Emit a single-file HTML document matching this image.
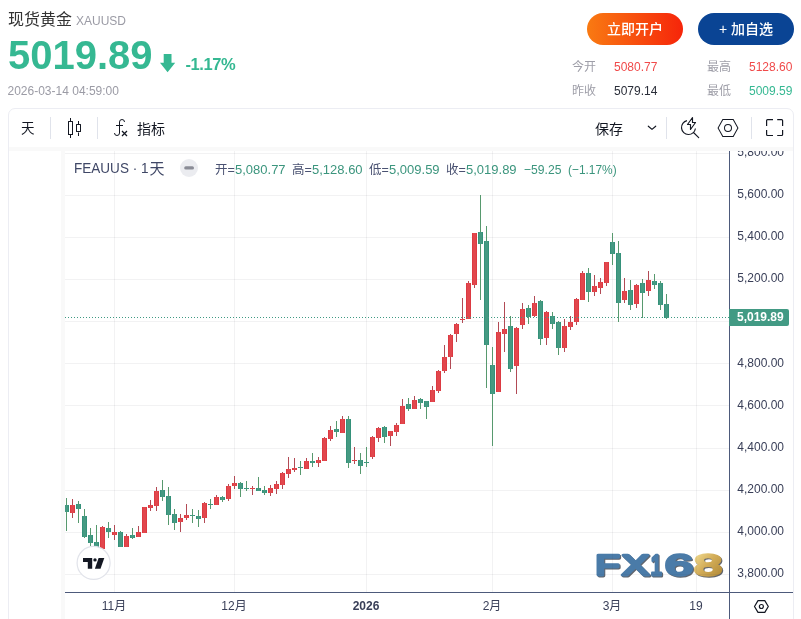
<!DOCTYPE html>
<html lang="zh-CN">
<head>
<meta charset="utf-8">
<title>现货黄金 XAUUSD</title>
<style>
*{box-sizing:border-box;margin:0;padding:0}
html,body{width:801px;height:619px;overflow:hidden;background:#fff}
body{position:relative;font-family:"Liberation Sans","Noto Sans CJK SC",sans-serif;color:#333;-webkit-font-smoothing:antialiased}
.a{position:absolute;white-space:nowrap;line-height:1}
.cj{font-family:"Liberation Sans","Noto Sans CJK SC",sans-serif}
#name{left:8px;top:12px;font-size:16px;color:#333}
#code{left:76px;top:15px;font-size:12px;color:#9b9ba5}
#price{left:8px;top:34.5px;font-size:40px;font-weight:bold;color:#35b892;transform-origin:0 100%;transform:scaleY(1.035)}
#chg{left:185.5px;top:55.5px;font-size:16.5px;font-weight:bold;color:#35b892;letter-spacing:-0.4px}
#date{left:7.5px;top:85px;font-size:12px;color:#9b9ba5}
.btn{position:absolute;top:13px;width:96px;height:32px;border-radius:16px;color:#fff;font-size:14px;font-weight:500;line-height:32px;text-align:center;white-space:nowrap}
#open{left:587px;background:linear-gradient(90deg,#f97a12 0%,#f6250a 100%)}
#fav{left:698px;background:#0a4494}
.sl{font-size:12px;color:#9e9ea8}
.sv{font-size:12px}
.red{color:#f04a4a}.grn{color:#35b892}.drk{color:#2a2e39}
#widget{position:absolute;left:8px;top:108px;width:786px;height:520px;border:1px solid #ecedf3;border-radius:7px 7px 0 0;background:#fff}
.band{position:absolute;background:#f9f9f9;z-index:3}
.tb{font-size:14px;color:#131722}
.lg{font-size:12.5px;color:#4a5272}
.lgv{font-size:13px;color:#3b957d}
.pl{font-size:12px;color:#393f58;left:737.3px;letter-spacing:0;transform:scaleY(1.07);transform-origin:0 50%}
.tl{font-size:12px;color:#393f58;text-align:center;width:60px}
svg{position:absolute;left:0;top:0}
</style>
</head>
<body>
<div class="a cj" id="name">现货黄金</div>
<div class="a" id="code">XAUUSD</div>
<div class="a" id="price">5019.89</div>
<svg width="801" height="619" viewBox="0 0 801 619" style="z-index:1;pointer-events:none">
  <path d="M163.700 54h7.800v8.700h3.700l-7.600 9.500l-7.600-9.500h3.700z" fill="#35b892"/>
</svg>
<div class="a" id="chg">-1.17%</div>
<div class="a" id="date">2026-03-14 04:59:00</div>

<div class="btn cj" id="open">立即开户</div>
<div class="btn cj" id="fav">+ 加自选</div>

<div class="a sl cj" style="left:572px;top:61px">今开</div>
<div class="a sv red" style="left:614px;top:61px">5080.77</div>
<div class="a sl cj" style="left:707px;top:61px">最高</div>
<div class="a sv red" style="left:749px;top:61px">5128.60</div>
<div class="a sl cj" style="left:572px;top:85px">昨收</div>
<div class="a sv drk" style="left:614px;top:85px">5079.14</div>
<div class="a sl cj" style="left:707px;top:85px">最低</div>
<div class="a sv grn" style="left:749px;top:85px">5009.59</div>

<div id="widget"></div>
<div class="band" style="left:9px;top:147px;width:784px;height:4px"></div>
<div class="band" style="left:61px;top:151px;width:4px;height:468px"></div>

<!-- toolbar -->
<div class="a tb cj" style="left:21px;top:122px;font-size:13.5px">天</div>
<div class="a tb cj" style="left:137px;top:122px">指标</div>
<div class="a tb cj" style="left:595px;top:121.500px">保存</div>

<svg width="801" height="619" viewBox="0 0 801 619" id="watermark">
  <defs><filter id="wsh" x="-5%" y="-20%" width="115%" height="150%" color-interpolation-filters="sRGB"><feDropShadow dx="1" dy="1" stdDeviation="0.35" flood-color="#3a3f48" flood-opacity=".8"/></filter><linearGradient id="gold" gradientUnits="userSpaceOnUse" x1="695" y1="-22.20" x2="722" y2="1.56"><stop offset="0" stop-color="#efd98f"/><stop offset=".45" stop-color="#d3ad58"/><stop offset="1" stop-color="#b08835"/></linearGradient></defs>
  <g filter="url(#wsh)"><text transform="translate(0,575.30) scale(1,0.9641)" font-family="'Liberation Sans',sans-serif" font-weight="normal" font-size="30" stroke-width="3.0" stroke-linejoin="round" vector-effect="non-scaling-stroke" text-rendering="geometricPrecision"><tspan x="595.21" textLength="24.48" lengthAdjust="spacingAndGlyphs" fill="#4a7ba8" stroke="#4a7ba8">F</tspan><tspan x="621.85" textLength="27.52" lengthAdjust="spacingAndGlyphs" fill="#4a7ba8" stroke="#4a7ba8">X</tspan><tspan x="650.51" textLength="11.61" lengthAdjust="spacingAndGlyphs" fill="#4a7ba8" stroke="#4a7ba8">1</tspan><tspan x="664.96" textLength="27.75" lengthAdjust="spacingAndGlyphs" fill="#4a7ba8" stroke="#4a7ba8">6</tspan><tspan x="694.36" textLength="27.69" lengthAdjust="spacingAndGlyphs" fill="url(#gold)" stroke="url(#gold)">8</tspan></text></g>
</svg>
<svg width="801" height="619" viewBox="0 0 801 619" shape-rendering="crispEdges">
<rect x="65" y="153" width="664" height="1" fill="rgba(42,46,57,0.062)"/>
<rect x="65" y="195" width="664" height="1" fill="rgba(42,46,57,0.062)"/>
<rect x="65" y="237" width="664" height="1" fill="rgba(42,46,57,0.062)"/>
<rect x="65" y="279" width="664" height="1" fill="rgba(42,46,57,0.062)"/>
<rect x="65" y="321" width="664" height="1" fill="rgba(42,46,57,0.062)"/>
<rect x="65" y="363" width="664" height="1" fill="rgba(42,46,57,0.062)"/>
<rect x="65" y="405" width="664" height="1" fill="rgba(42,46,57,0.062)"/>
<rect x="65" y="448" width="664" height="1" fill="rgba(42,46,57,0.062)"/>
<rect x="65" y="490" width="664" height="1" fill="rgba(42,46,57,0.062)"/>
<rect x="65" y="532" width="664" height="1" fill="rgba(42,46,57,0.062)"/>
<rect x="65" y="574" width="664" height="1" fill="rgba(42,46,57,0.062)"/>
<rect x="114" y="151" width="1" height="441" fill="rgba(42,46,57,0.062)"/>
<rect x="234" y="151" width="1" height="441" fill="rgba(42,46,57,0.062)"/>
<rect x="366" y="151" width="1" height="441" fill="rgba(42,46,57,0.062)"/>
<rect x="492" y="151" width="1" height="441" fill="rgba(42,46,57,0.062)"/>
<rect x="612" y="151" width="1" height="441" fill="rgba(42,46,57,0.062)"/>
<rect x="696" y="151" width="1" height="441" fill="rgba(42,46,57,0.062)"/>
<rect x="66" y="498" width="1" height="33" fill="#57996e"/>
<rect x="65" y="505" width="4" height="7" fill="#35917a"/>
<rect x="65" y="505" width="3" height="7" fill="#459a82"/>
<rect x="72" y="499" width="1" height="19" fill="#b24a55"/>
<rect x="70" y="505" width="5" height="8" fill="#dc3a42"/>
<rect x="71" y="505" width="3" height="8" fill="#e2474d"/>
<rect x="78" y="501" width="1" height="22" fill="#57996e"/>
<rect x="76" y="504" width="5" height="5" fill="#35917a"/>
<rect x="77" y="504" width="3" height="5" fill="#459a82"/>
<rect x="84" y="509" width="1" height="29" fill="#57996e"/>
<rect x="82" y="516" width="5" height="21" fill="#35917a"/>
<rect x="83" y="516" width="3" height="21" fill="#459a82"/>
<rect x="90" y="528" width="1" height="18" fill="#57996e"/>
<rect x="88" y="535" width="5" height="8" fill="#35917a"/>
<rect x="89" y="535" width="3" height="8" fill="#459a82"/>
<rect x="96" y="525" width="1" height="25" fill="#57996e"/>
<rect x="94" y="542" width="5" height="6" fill="#35917a"/>
<rect x="95" y="542" width="3" height="6" fill="#459a82"/>
<rect x="102" y="526" width="1" height="23" fill="#b24a55"/>
<rect x="100" y="527" width="5" height="22" fill="#dc3a42"/>
<rect x="101" y="527" width="3" height="22" fill="#e2474d"/>
<rect x="108" y="522" width="1" height="16" fill="#57996e"/>
<rect x="106" y="528" width="5" height="4" fill="#35917a"/>
<rect x="107" y="528" width="3" height="4" fill="#459a82"/>
<rect x="114" y="525" width="1" height="15" fill="#b24a55"/>
<rect x="112" y="532" width="5" height="3" fill="#dc3a42"/>
<rect x="113" y="532" width="3" height="3" fill="#e2474d"/>
<rect x="120" y="531" width="1" height="16" fill="#57996e"/>
<rect x="118" y="532" width="5" height="15" fill="#35917a"/>
<rect x="119" y="532" width="3" height="15" fill="#459a82"/>
<rect x="126" y="534" width="1" height="13" fill="#b24a55"/>
<rect x="124" y="536" width="5" height="11" fill="#dc3a42"/>
<rect x="125" y="536" width="3" height="11" fill="#e2474d"/>
<rect x="132" y="528" width="1" height="11" fill="#57996e"/>
<rect x="130" y="535" width="5" height="3" fill="#35917a"/>
<rect x="131" y="535" width="3" height="3" fill="#459a82"/>
<rect x="138" y="526" width="1" height="11" fill="#b24a55"/>
<rect x="136" y="532" width="5" height="5" fill="#dc3a42"/>
<rect x="137" y="532" width="3" height="5" fill="#e2474d"/>
<rect x="144" y="507" width="1" height="26" fill="#b24a55"/>
<rect x="142" y="507" width="5" height="26" fill="#dc3a42"/>
<rect x="143" y="507" width="3" height="26" fill="#e2474d"/>
<rect x="150" y="500" width="1" height="11" fill="#b24a55"/>
<rect x="148" y="505" width="5" height="3" fill="#dc3a42"/>
<rect x="149" y="505" width="3" height="3" fill="#e2474d"/>
<rect x="156" y="487" width="1" height="24" fill="#b24a55"/>
<rect x="154" y="491" width="5" height="15" fill="#dc3a42"/>
<rect x="155" y="491" width="3" height="15" fill="#e2474d"/>
<rect x="162" y="480" width="1" height="21" fill="#57996e"/>
<rect x="160" y="490" width="5" height="7" fill="#35917a"/>
<rect x="161" y="490" width="3" height="7" fill="#459a82"/>
<rect x="168" y="487" width="1" height="38" fill="#57996e"/>
<rect x="166" y="496" width="5" height="19" fill="#35917a"/>
<rect x="167" y="496" width="3" height="19" fill="#459a82"/>
<rect x="174" y="509" width="1" height="21" fill="#57996e"/>
<rect x="172" y="514" width="5" height="9" fill="#35917a"/>
<rect x="173" y="514" width="3" height="9" fill="#459a82"/>
<rect x="180" y="514" width="1" height="18" fill="#b24a55"/>
<rect x="178" y="518" width="5" height="4" fill="#dc3a42"/>
<rect x="179" y="518" width="3" height="4" fill="#e2474d"/>
<rect x="186" y="504" width="1" height="16" fill="#b24a55"/>
<rect x="184" y="515" width="5" height="3" fill="#dc3a42"/>
<rect x="185" y="515" width="3" height="3" fill="#e2474d"/>
<rect x="192" y="509" width="1" height="14" fill="#57996e"/>
<rect x="190" y="515" width="5" height="1" fill="#35917a"/>
<rect x="191" y="515" width="3" height="1" fill="#459a82"/>
<rect x="198" y="510" width="1" height="17" fill="#57996e"/>
<rect x="196" y="516" width="5" height="3" fill="#35917a"/>
<rect x="197" y="516" width="3" height="3" fill="#459a82"/>
<rect x="204" y="502" width="1" height="21" fill="#b24a55"/>
<rect x="202" y="503" width="5" height="15" fill="#dc3a42"/>
<rect x="203" y="503" width="3" height="15" fill="#e2474d"/>
<rect x="210" y="499" width="1" height="10" fill="#57996e"/>
<rect x="208" y="504" width="5" height="1" fill="#35917a"/>
<rect x="209" y="504" width="3" height="1" fill="#459a82"/>
<rect x="216" y="495" width="1" height="10" fill="#b24a55"/>
<rect x="214" y="497" width="5" height="8" fill="#dc3a42"/>
<rect x="215" y="497" width="3" height="8" fill="#e2474d"/>
<rect x="222" y="496" width="1" height="6" fill="#57996e"/>
<rect x="220" y="497" width="5" height="3" fill="#35917a"/>
<rect x="221" y="497" width="3" height="3" fill="#459a82"/>
<rect x="228" y="484" width="1" height="17" fill="#b24a55"/>
<rect x="226" y="486" width="5" height="13" fill="#dc3a42"/>
<rect x="227" y="486" width="3" height="13" fill="#e2474d"/>
<rect x="234" y="476" width="1" height="13" fill="#b24a55"/>
<rect x="232" y="483" width="5" height="3" fill="#dc3a42"/>
<rect x="233" y="483" width="3" height="3" fill="#e2474d"/>
<rect x="240" y="482" width="1" height="15" fill="#57996e"/>
<rect x="238" y="483" width="5" height="6" fill="#35917a"/>
<rect x="239" y="483" width="3" height="6" fill="#459a82"/>
<rect x="246" y="481" width="1" height="10" fill="#57996e"/>
<rect x="244" y="488" width="5" height="1" fill="#35917a"/>
<rect x="245" y="488" width="3" height="1" fill="#459a82"/>
<rect x="252" y="486" width="1" height="9" fill="#b24a55"/>
<rect x="250" y="488" width="5" height="1" fill="#dc3a42"/>
<rect x="251" y="488" width="3" height="1" fill="#e2474d"/>
<rect x="258" y="477" width="1" height="14" fill="#57996e"/>
<rect x="256" y="488" width="5" height="3" fill="#35917a"/>
<rect x="257" y="488" width="3" height="3" fill="#459a82"/>
<rect x="264" y="486" width="1" height="9" fill="#57996e"/>
<rect x="262" y="490" width="5" height="3" fill="#35917a"/>
<rect x="263" y="490" width="3" height="3" fill="#459a82"/>
<rect x="270" y="485" width="1" height="11" fill="#b24a55"/>
<rect x="268" y="488" width="5" height="5" fill="#dc3a42"/>
<rect x="269" y="488" width="3" height="5" fill="#e2474d"/>
<rect x="276" y="481" width="1" height="13" fill="#b24a55"/>
<rect x="274" y="484" width="5" height="5" fill="#dc3a42"/>
<rect x="275" y="484" width="3" height="5" fill="#e2474d"/>
<rect x="282" y="472" width="1" height="17" fill="#b24a55"/>
<rect x="280" y="473" width="5" height="12" fill="#dc3a42"/>
<rect x="281" y="473" width="3" height="12" fill="#e2474d"/>
<rect x="288" y="457" width="1" height="21" fill="#b24a55"/>
<rect x="286" y="469" width="5" height="5" fill="#dc3a42"/>
<rect x="287" y="469" width="3" height="5" fill="#e2474d"/>
<rect x="294" y="458" width="1" height="14" fill="#b24a55"/>
<rect x="292" y="468" width="5" height="2" fill="#dc3a42"/>
<rect x="293" y="468" width="3" height="2" fill="#e2474d"/>
<rect x="300" y="461" width="1" height="14" fill="#57996e"/>
<rect x="298" y="467" width="5" height="1" fill="#35917a"/>
<rect x="299" y="467" width="3" height="1" fill="#459a82"/>
<rect x="306" y="458" width="1" height="11" fill="#b24a55"/>
<rect x="304" y="461" width="5" height="8" fill="#dc3a42"/>
<rect x="305" y="461" width="3" height="8" fill="#e2474d"/>
<rect x="312" y="453" width="1" height="14" fill="#57996e"/>
<rect x="310" y="461" width="5" height="2" fill="#35917a"/>
<rect x="311" y="461" width="3" height="2" fill="#459a82"/>
<rect x="318" y="457" width="1" height="10" fill="#b24a55"/>
<rect x="316" y="460" width="5" height="3" fill="#dc3a42"/>
<rect x="317" y="460" width="3" height="3" fill="#e2474d"/>
<rect x="324" y="437" width="1" height="24" fill="#b24a55"/>
<rect x="322" y="438" width="5" height="23" fill="#dc3a42"/>
<rect x="323" y="438" width="3" height="23" fill="#e2474d"/>
<rect x="330" y="426" width="1" height="15" fill="#b24a55"/>
<rect x="328" y="430" width="5" height="9" fill="#dc3a42"/>
<rect x="329" y="430" width="3" height="9" fill="#e2474d"/>
<rect x="336" y="421" width="1" height="16" fill="#57996e"/>
<rect x="334" y="429" width="5" height="3" fill="#35917a"/>
<rect x="335" y="429" width="3" height="3" fill="#459a82"/>
<rect x="342" y="416" width="1" height="17" fill="#b24a55"/>
<rect x="340" y="419" width="5" height="14" fill="#dc3a42"/>
<rect x="341" y="419" width="3" height="14" fill="#e2474d"/>
<rect x="348" y="416" width="1" height="52" fill="#57996e"/>
<rect x="346" y="419" width="5" height="44" fill="#35917a"/>
<rect x="347" y="419" width="3" height="44" fill="#459a82"/>
<rect x="354" y="447" width="1" height="17" fill="#b24a55"/>
<rect x="352" y="460" width="5" height="1" fill="#dc3a42"/>
<rect x="353" y="460" width="3" height="1" fill="#e2474d"/>
<rect x="360" y="453" width="1" height="21" fill="#57996e"/>
<rect x="358" y="460" width="5" height="6" fill="#35917a"/>
<rect x="359" y="460" width="3" height="6" fill="#459a82"/>
<rect x="366" y="447" width="1" height="20" fill="#57996e"/>
<rect x="364" y="462" width="5" height="1" fill="#35917a"/>
<rect x="365" y="462" width="3" height="1" fill="#459a82"/>
<rect x="372" y="436" width="1" height="23" fill="#b24a55"/>
<rect x="370" y="437" width="5" height="20" fill="#dc3a42"/>
<rect x="371" y="437" width="3" height="20" fill="#e2474d"/>
<rect x="378" y="427" width="1" height="15" fill="#b24a55"/>
<rect x="376" y="428" width="5" height="10" fill="#dc3a42"/>
<rect x="377" y="428" width="3" height="10" fill="#e2474d"/>
<rect x="384" y="426" width="1" height="17" fill="#57996e"/>
<rect x="382" y="427" width="5" height="10" fill="#35917a"/>
<rect x="383" y="427" width="3" height="10" fill="#459a82"/>
<rect x="390" y="431" width="1" height="15" fill="#b24a55"/>
<rect x="388" y="431" width="5" height="5" fill="#dc3a42"/>
<rect x="389" y="431" width="3" height="5" fill="#e2474d"/>
<rect x="396" y="423" width="1" height="13" fill="#b24a55"/>
<rect x="394" y="425" width="5" height="7" fill="#dc3a42"/>
<rect x="395" y="425" width="3" height="7" fill="#e2474d"/>
<rect x="402" y="399" width="1" height="25" fill="#b24a55"/>
<rect x="400" y="406" width="5" height="18" fill="#dc3a42"/>
<rect x="401" y="406" width="3" height="18" fill="#e2474d"/>
<rect x="408" y="398" width="1" height="13" fill="#57996e"/>
<rect x="406" y="404" width="5" height="5" fill="#35917a"/>
<rect x="407" y="404" width="3" height="5" fill="#459a82"/>
<rect x="414" y="396" width="1" height="13" fill="#b24a55"/>
<rect x="412" y="400" width="5" height="9" fill="#dc3a42"/>
<rect x="413" y="400" width="3" height="9" fill="#e2474d"/>
<rect x="420" y="398" width="1" height="11" fill="#57996e"/>
<rect x="418" y="399" width="5" height="4" fill="#35917a"/>
<rect x="419" y="399" width="3" height="4" fill="#459a82"/>
<rect x="426" y="401" width="1" height="18" fill="#57996e"/>
<rect x="424" y="401" width="5" height="6" fill="#35917a"/>
<rect x="425" y="401" width="3" height="6" fill="#459a82"/>
<rect x="432" y="386" width="1" height="16" fill="#b24a55"/>
<rect x="430" y="390" width="5" height="12" fill="#dc3a42"/>
<rect x="431" y="390" width="3" height="12" fill="#e2474d"/>
<rect x="438" y="370" width="1" height="23" fill="#b24a55"/>
<rect x="436" y="371" width="5" height="20" fill="#dc3a42"/>
<rect x="437" y="371" width="3" height="20" fill="#e2474d"/>
<rect x="444" y="345" width="1" height="28" fill="#b24a55"/>
<rect x="442" y="357" width="5" height="14" fill="#dc3a42"/>
<rect x="443" y="357" width="3" height="14" fill="#e2474d"/>
<rect x="450" y="334" width="1" height="35" fill="#b24a55"/>
<rect x="448" y="335" width="5" height="22" fill="#dc3a42"/>
<rect x="449" y="335" width="3" height="22" fill="#e2474d"/>
<rect x="456" y="323" width="1" height="19" fill="#b24a55"/>
<rect x="454" y="324" width="5" height="10" fill="#dc3a42"/>
<rect x="455" y="324" width="3" height="10" fill="#e2474d"/>
<rect x="462" y="298" width="1" height="25" fill="#b24a55"/>
<rect x="460" y="319" width="5" height="1" fill="#dc3a42"/>
<rect x="461" y="319" width="3" height="1" fill="#e2474d"/>
<rect x="468" y="281" width="1" height="38" fill="#b24a55"/>
<rect x="466" y="283" width="5" height="36" fill="#dc3a42"/>
<rect x="467" y="283" width="3" height="36" fill="#e2474d"/>
<rect x="474" y="233" width="1" height="55" fill="#b24a55"/>
<rect x="472" y="233" width="5" height="52" fill="#dc3a42"/>
<rect x="473" y="233" width="3" height="52" fill="#e2474d"/>
<rect x="480" y="195" width="1" height="105" fill="#57996e"/>
<rect x="478" y="232" width="5" height="12" fill="#35917a"/>
<rect x="479" y="232" width="3" height="12" fill="#459a82"/>
<rect x="486" y="226" width="1" height="162" fill="#57996e"/>
<rect x="484" y="241" width="5" height="104" fill="#35917a"/>
<rect x="485" y="241" width="3" height="104" fill="#459a82"/>
<rect x="492" y="347" width="1" height="99" fill="#57996e"/>
<rect x="490" y="365" width="5" height="29" fill="#35917a"/>
<rect x="491" y="365" width="3" height="29" fill="#459a82"/>
<rect x="498" y="322" width="1" height="70" fill="#b24a55"/>
<rect x="496" y="332" width="5" height="60" fill="#dc3a42"/>
<rect x="497" y="332" width="3" height="60" fill="#e2474d"/>
<rect x="504" y="302" width="1" height="50" fill="#b24a55"/>
<rect x="502" y="329" width="5" height="5" fill="#dc3a42"/>
<rect x="503" y="329" width="3" height="5" fill="#e2474d"/>
<rect x="510" y="316" width="1" height="56" fill="#57996e"/>
<rect x="508" y="326" width="5" height="43" fill="#35917a"/>
<rect x="509" y="326" width="3" height="43" fill="#459a82"/>
<rect x="516" y="327" width="1" height="67" fill="#b24a55"/>
<rect x="514" y="328" width="5" height="38" fill="#dc3a42"/>
<rect x="515" y="328" width="3" height="38" fill="#e2474d"/>
<rect x="522" y="303" width="1" height="26" fill="#b24a55"/>
<rect x="520" y="309" width="5" height="16" fill="#dc3a42"/>
<rect x="521" y="309" width="3" height="16" fill="#e2474d"/>
<rect x="528" y="305" width="1" height="19" fill="#57996e"/>
<rect x="526" y="308" width="5" height="9" fill="#35917a"/>
<rect x="527" y="308" width="3" height="9" fill="#459a82"/>
<rect x="534" y="296" width="1" height="21" fill="#b24a55"/>
<rect x="532" y="303" width="5" height="13" fill="#dc3a42"/>
<rect x="533" y="303" width="3" height="13" fill="#e2474d"/>
<rect x="540" y="300" width="1" height="45" fill="#57996e"/>
<rect x="538" y="301" width="5" height="38" fill="#35917a"/>
<rect x="539" y="301" width="3" height="38" fill="#459a82"/>
<rect x="546" y="311" width="1" height="34" fill="#b24a55"/>
<rect x="544" y="312" width="5" height="26" fill="#dc3a42"/>
<rect x="545" y="312" width="3" height="26" fill="#e2474d"/>
<rect x="552" y="312" width="1" height="17" fill="#57996e"/>
<rect x="550" y="316" width="5" height="8" fill="#35917a"/>
<rect x="551" y="316" width="3" height="8" fill="#459a82"/>
<rect x="558" y="321" width="1" height="34" fill="#57996e"/>
<rect x="556" y="322" width="5" height="26" fill="#35917a"/>
<rect x="557" y="322" width="3" height="26" fill="#459a82"/>
<rect x="564" y="319" width="1" height="33" fill="#b24a55"/>
<rect x="562" y="326" width="5" height="22" fill="#dc3a42"/>
<rect x="563" y="326" width="3" height="22" fill="#e2474d"/>
<rect x="570" y="316" width="1" height="14" fill="#b24a55"/>
<rect x="568" y="322" width="5" height="5" fill="#dc3a42"/>
<rect x="569" y="322" width="3" height="5" fill="#e2474d"/>
<rect x="576" y="298" width="1" height="27" fill="#b24a55"/>
<rect x="574" y="299" width="5" height="23" fill="#dc3a42"/>
<rect x="575" y="299" width="3" height="23" fill="#e2474d"/>
<rect x="582" y="271" width="1" height="29" fill="#b24a55"/>
<rect x="580" y="273" width="5" height="27" fill="#dc3a42"/>
<rect x="581" y="273" width="3" height="27" fill="#e2474d"/>
<rect x="588" y="268" width="1" height="34" fill="#57996e"/>
<rect x="586" y="273" width="5" height="19" fill="#35917a"/>
<rect x="587" y="273" width="3" height="19" fill="#459a82"/>
<rect x="594" y="275" width="1" height="21" fill="#b24a55"/>
<rect x="592" y="286" width="5" height="6" fill="#dc3a42"/>
<rect x="593" y="286" width="3" height="6" fill="#e2474d"/>
<rect x="600" y="278" width="1" height="16" fill="#b24a55"/>
<rect x="598" y="282" width="5" height="6" fill="#dc3a42"/>
<rect x="599" y="282" width="3" height="6" fill="#e2474d"/>
<rect x="606" y="262" width="1" height="24" fill="#b24a55"/>
<rect x="604" y="262" width="5" height="21" fill="#dc3a42"/>
<rect x="605" y="262" width="3" height="21" fill="#e2474d"/>
<rect x="612" y="233" width="1" height="32" fill="#57996e"/>
<rect x="610" y="242" width="5" height="12" fill="#35917a"/>
<rect x="611" y="242" width="3" height="12" fill="#459a82"/>
<rect x="618" y="241" width="1" height="81" fill="#57996e"/>
<rect x="616" y="253" width="5" height="50" fill="#35917a"/>
<rect x="617" y="253" width="3" height="50" fill="#459a82"/>
<rect x="624" y="278" width="1" height="25" fill="#b24a55"/>
<rect x="622" y="291" width="5" height="9" fill="#dc3a42"/>
<rect x="623" y="291" width="3" height="9" fill="#e2474d"/>
<rect x="630" y="280" width="1" height="30" fill="#57996e"/>
<rect x="628" y="290" width="5" height="15" fill="#35917a"/>
<rect x="629" y="290" width="3" height="15" fill="#459a82"/>
<rect x="636" y="284" width="1" height="24" fill="#b24a55"/>
<rect x="634" y="285" width="5" height="19" fill="#dc3a42"/>
<rect x="635" y="285" width="3" height="19" fill="#e2474d"/>
<rect x="642" y="279" width="1" height="39" fill="#57996e"/>
<rect x="640" y="283" width="5" height="10" fill="#35917a"/>
<rect x="641" y="283" width="3" height="10" fill="#459a82"/>
<rect x="648" y="271" width="1" height="25" fill="#b24a55"/>
<rect x="646" y="280" width="5" height="11" fill="#dc3a42"/>
<rect x="647" y="280" width="3" height="11" fill="#e2474d"/>
<rect x="654" y="274" width="1" height="15" fill="#57996e"/>
<rect x="652" y="281" width="5" height="4" fill="#35917a"/>
<rect x="653" y="281" width="3" height="4" fill="#459a82"/>
<rect x="660" y="281" width="1" height="29" fill="#57996e"/>
<rect x="658" y="283" width="5" height="22" fill="#35917a"/>
<rect x="659" y="283" width="3" height="22" fill="#459a82"/>
<rect x="666" y="294" width="1" height="25" fill="#57996e"/>
<rect x="664" y="304" width="5" height="14" fill="#35917a"/>
<rect x="665" y="304" width="3" height="14" fill="#459a82"/>
<g fill="#3f9a83">
<rect x="65" y="317" width="1" height="1"/><rect x="68" y="317" width="1" height="1"/><rect x="71" y="317" width="1" height="1"/><rect x="74" y="317" width="1" height="1"/><rect x="77" y="317" width="1" height="1"/><rect x="80" y="317" width="1" height="1"/><rect x="83" y="317" width="1" height="1"/><rect x="86" y="317" width="1" height="1"/><rect x="89" y="317" width="1" height="1"/><rect x="92" y="317" width="1" height="1"/><rect x="95" y="317" width="1" height="1"/><rect x="98" y="317" width="1" height="1"/><rect x="101" y="317" width="1" height="1"/><rect x="104" y="317" width="1" height="1"/><rect x="107" y="317" width="1" height="1"/><rect x="110" y="317" width="1" height="1"/><rect x="113" y="317" width="1" height="1"/><rect x="116" y="317" width="1" height="1"/><rect x="119" y="317" width="1" height="1"/><rect x="122" y="317" width="1" height="1"/><rect x="125" y="317" width="1" height="1"/><rect x="128" y="317" width="1" height="1"/><rect x="131" y="317" width="1" height="1"/><rect x="134" y="317" width="1" height="1"/><rect x="137" y="317" width="1" height="1"/><rect x="140" y="317" width="1" height="1"/><rect x="143" y="317" width="1" height="1"/><rect x="146" y="317" width="1" height="1"/><rect x="149" y="317" width="1" height="1"/><rect x="152" y="317" width="1" height="1"/><rect x="155" y="317" width="1" height="1"/><rect x="158" y="317" width="1" height="1"/><rect x="161" y="317" width="1" height="1"/><rect x="164" y="317" width="1" height="1"/><rect x="167" y="317" width="1" height="1"/><rect x="170" y="317" width="1" height="1"/><rect x="173" y="317" width="1" height="1"/><rect x="176" y="317" width="1" height="1"/><rect x="179" y="317" width="1" height="1"/><rect x="182" y="317" width="1" height="1"/><rect x="185" y="317" width="1" height="1"/><rect x="188" y="317" width="1" height="1"/><rect x="191" y="317" width="1" height="1"/><rect x="194" y="317" width="1" height="1"/><rect x="197" y="317" width="1" height="1"/><rect x="200" y="317" width="1" height="1"/><rect x="203" y="317" width="1" height="1"/><rect x="206" y="317" width="1" height="1"/><rect x="209" y="317" width="1" height="1"/><rect x="212" y="317" width="1" height="1"/><rect x="215" y="317" width="1" height="1"/><rect x="218" y="317" width="1" height="1"/><rect x="221" y="317" width="1" height="1"/><rect x="224" y="317" width="1" height="1"/><rect x="227" y="317" width="1" height="1"/><rect x="230" y="317" width="1" height="1"/><rect x="233" y="317" width="1" height="1"/><rect x="236" y="317" width="1" height="1"/><rect x="239" y="317" width="1" height="1"/><rect x="242" y="317" width="1" height="1"/><rect x="245" y="317" width="1" height="1"/><rect x="248" y="317" width="1" height="1"/><rect x="251" y="317" width="1" height="1"/><rect x="254" y="317" width="1" height="1"/><rect x="257" y="317" width="1" height="1"/><rect x="260" y="317" width="1" height="1"/><rect x="263" y="317" width="1" height="1"/><rect x="266" y="317" width="1" height="1"/><rect x="269" y="317" width="1" height="1"/><rect x="272" y="317" width="1" height="1"/><rect x="275" y="317" width="1" height="1"/><rect x="278" y="317" width="1" height="1"/><rect x="281" y="317" width="1" height="1"/><rect x="284" y="317" width="1" height="1"/><rect x="287" y="317" width="1" height="1"/><rect x="290" y="317" width="1" height="1"/><rect x="293" y="317" width="1" height="1"/><rect x="296" y="317" width="1" height="1"/><rect x="299" y="317" width="1" height="1"/><rect x="302" y="317" width="1" height="1"/><rect x="305" y="317" width="1" height="1"/><rect x="308" y="317" width="1" height="1"/><rect x="311" y="317" width="1" height="1"/><rect x="314" y="317" width="1" height="1"/><rect x="317" y="317" width="1" height="1"/><rect x="320" y="317" width="1" height="1"/><rect x="323" y="317" width="1" height="1"/><rect x="326" y="317" width="1" height="1"/><rect x="329" y="317" width="1" height="1"/><rect x="332" y="317" width="1" height="1"/><rect x="335" y="317" width="1" height="1"/><rect x="338" y="317" width="1" height="1"/><rect x="341" y="317" width="1" height="1"/><rect x="344" y="317" width="1" height="1"/><rect x="347" y="317" width="1" height="1"/><rect x="350" y="317" width="1" height="1"/><rect x="353" y="317" width="1" height="1"/><rect x="356" y="317" width="1" height="1"/><rect x="359" y="317" width="1" height="1"/><rect x="362" y="317" width="1" height="1"/><rect x="365" y="317" width="1" height="1"/><rect x="368" y="317" width="1" height="1"/><rect x="371" y="317" width="1" height="1"/><rect x="374" y="317" width="1" height="1"/><rect x="377" y="317" width="1" height="1"/><rect x="380" y="317" width="1" height="1"/><rect x="383" y="317" width="1" height="1"/><rect x="386" y="317" width="1" height="1"/><rect x="389" y="317" width="1" height="1"/><rect x="392" y="317" width="1" height="1"/><rect x="395" y="317" width="1" height="1"/><rect x="398" y="317" width="1" height="1"/><rect x="401" y="317" width="1" height="1"/><rect x="404" y="317" width="1" height="1"/><rect x="407" y="317" width="1" height="1"/><rect x="410" y="317" width="1" height="1"/><rect x="413" y="317" width="1" height="1"/><rect x="416" y="317" width="1" height="1"/><rect x="419" y="317" width="1" height="1"/><rect x="422" y="317" width="1" height="1"/><rect x="425" y="317" width="1" height="1"/><rect x="428" y="317" width="1" height="1"/><rect x="431" y="317" width="1" height="1"/><rect x="434" y="317" width="1" height="1"/><rect x="437" y="317" width="1" height="1"/><rect x="440" y="317" width="1" height="1"/><rect x="443" y="317" width="1" height="1"/><rect x="446" y="317" width="1" height="1"/><rect x="449" y="317" width="1" height="1"/><rect x="452" y="317" width="1" height="1"/><rect x="455" y="317" width="1" height="1"/><rect x="458" y="317" width="1" height="1"/><rect x="461" y="317" width="1" height="1"/><rect x="464" y="317" width="1" height="1"/><rect x="467" y="317" width="1" height="1"/><rect x="470" y="317" width="1" height="1"/><rect x="473" y="317" width="1" height="1"/><rect x="476" y="317" width="1" height="1"/><rect x="479" y="317" width="1" height="1"/><rect x="482" y="317" width="1" height="1"/><rect x="485" y="317" width="1" height="1"/><rect x="488" y="317" width="1" height="1"/><rect x="491" y="317" width="1" height="1"/><rect x="494" y="317" width="1" height="1"/><rect x="497" y="317" width="1" height="1"/><rect x="500" y="317" width="1" height="1"/><rect x="503" y="317" width="1" height="1"/><rect x="506" y="317" width="1" height="1"/><rect x="509" y="317" width="1" height="1"/><rect x="512" y="317" width="1" height="1"/><rect x="515" y="317" width="1" height="1"/><rect x="518" y="317" width="1" height="1"/><rect x="521" y="317" width="1" height="1"/><rect x="524" y="317" width="1" height="1"/><rect x="527" y="317" width="1" height="1"/><rect x="530" y="317" width="1" height="1"/><rect x="533" y="317" width="1" height="1"/><rect x="536" y="317" width="1" height="1"/><rect x="539" y="317" width="1" height="1"/><rect x="542" y="317" width="1" height="1"/><rect x="545" y="317" width="1" height="1"/><rect x="548" y="317" width="1" height="1"/><rect x="551" y="317" width="1" height="1"/><rect x="554" y="317" width="1" height="1"/><rect x="557" y="317" width="1" height="1"/><rect x="560" y="317" width="1" height="1"/><rect x="563" y="317" width="1" height="1"/><rect x="566" y="317" width="1" height="1"/><rect x="569" y="317" width="1" height="1"/><rect x="572" y="317" width="1" height="1"/><rect x="575" y="317" width="1" height="1"/><rect x="578" y="317" width="1" height="1"/><rect x="581" y="317" width="1" height="1"/><rect x="584" y="317" width="1" height="1"/><rect x="587" y="317" width="1" height="1"/><rect x="590" y="317" width="1" height="1"/><rect x="593" y="317" width="1" height="1"/><rect x="596" y="317" width="1" height="1"/><rect x="599" y="317" width="1" height="1"/><rect x="602" y="317" width="1" height="1"/><rect x="605" y="317" width="1" height="1"/><rect x="608" y="317" width="1" height="1"/><rect x="611" y="317" width="1" height="1"/><rect x="614" y="317" width="1" height="1"/><rect x="617" y="317" width="1" height="1"/><rect x="620" y="317" width="1" height="1"/><rect x="623" y="317" width="1" height="1"/><rect x="626" y="317" width="1" height="1"/><rect x="629" y="317" width="1" height="1"/><rect x="632" y="317" width="1" height="1"/><rect x="635" y="317" width="1" height="1"/><rect x="638" y="317" width="1" height="1"/><rect x="641" y="317" width="1" height="1"/><rect x="644" y="317" width="1" height="1"/><rect x="647" y="317" width="1" height="1"/><rect x="650" y="317" width="1" height="1"/><rect x="653" y="317" width="1" height="1"/><rect x="656" y="317" width="1" height="1"/><rect x="659" y="317" width="1" height="1"/><rect x="662" y="317" width="1" height="1"/><rect x="665" y="317" width="1" height="1"/><rect x="668" y="317" width="1" height="1"/><rect x="671" y="317" width="1" height="1"/><rect x="674" y="317" width="1" height="1"/><rect x="677" y="317" width="1" height="1"/><rect x="680" y="317" width="1" height="1"/><rect x="683" y="317" width="1" height="1"/><rect x="686" y="317" width="1" height="1"/><rect x="689" y="317" width="1" height="1"/><rect x="692" y="317" width="1" height="1"/><rect x="695" y="317" width="1" height="1"/><rect x="698" y="317" width="1" height="1"/><rect x="701" y="317" width="1" height="1"/><rect x="704" y="317" width="1" height="1"/><rect x="707" y="317" width="1" height="1"/><rect x="710" y="317" width="1" height="1"/><rect x="713" y="317" width="1" height="1"/><rect x="716" y="317" width="1" height="1"/><rect x="719" y="317" width="1" height="1"/><rect x="722" y="317" width="1" height="1"/><rect x="725" y="317" width="1" height="1"/><rect x="728" y="317" width="1" height="1"/></g>
  <!-- axis lines -->
  <rect x="729" y="151" width="1" height="468" fill="#4d5a7b"/>
  <rect x="65" y="592" width="728" height="1" fill="#4d5a7b"/>
  <!-- toolbar separators -->
  <rect x="50" y="117" width="1" height="22" fill="#e0e3eb"/>
  <rect x="97" y="117" width="1" height="22" fill="#e0e3eb"/>
  <rect x="666" y="117" width="1" height="22" fill="#e0e3eb"/>
  <rect x="751" y="117" width="1" height="22" fill="#e0e3eb"/>
  <!-- last price box -->
  
</svg>

<svg width="801" height="619" viewBox="0 0 801 619" fill="none" stroke="#131722" stroke-width="1">
  <!-- candle icon -->
  <g transform="translate(60,114)" fill="#131722" stroke="none">
    <path d="M17 11v6h3v-6h-3zm-.5-1h4a.5.5 0 0 1 .5.5v7a.5.5 0 0 1-.5.5h-4a.5.5 0 0 1-.5-.5v-7a.5.5 0 0 1 .5-.5z"/>
    <path d="M18 7h1v3.500h-1zm0 11.500h1V22h-1zM9 8v12h3V8H9zm-.5-1h4a.5.5 0 0 1 .5.5v13a.5.5 0 0 1-.5.5h-4a.5.5 0 0 1-.5-.5v-13a.5.5 0 0 1 .5-.5z"/>
    <path d="M10 4h1v3.500h-1zm0 16.500h1V24h-1z"/>
  </g>
  <!-- fx icon -->
  <g transform="translate(107,114)"><path stroke="#131722" stroke-width="1.250" d="M20 17l-5 5M15 17l5 5"/><path stroke="#131722" d="M9 11.500h7M17.500 8a2.500 2.500 0 0 0-5 0v11a2.500 2.500 0 0 1-5 0"/></g>
  <!-- chevron -->
  <path d="M648.300 126.200l3.700 3.200l3.700-3.200" stroke-width="1.150" stroke-linecap="round" stroke-linejoin="round"/>
  <!-- quick search -->
  <g stroke-width="1.150" stroke-linejoin="round">
    <path d="M687 120.660A7 7 0 1 0 695.430 128.500"/>
    <path d="M693.500 132.500l5.200 5.200" stroke-linecap="round"/>
    <path d="M692.500 117.500l-5 7h3v5l5-7h-3z"/>
  </g>
  <!-- settings hexagon -->
  <g transform="translate(714,114)" fill="#131722" stroke="none" fill-rule="evenodd">
    <path d="M18 14a4 4 0 1 1-8 0 4 4 0 0 1 8 0Zm-1 0a3 3 0 1 1-6 0 3 3 0 0 1 6 0Z"/>
    <path d="M8.500 5h11l5 9-5 9h-11l-5-9 5-9Zm-3.860 9L9.090 6h9.820l4.450 8-4.450 8H9.090l-4.450-8Z"/>
  </g>
  <!-- fullscreen -->
  <g stroke-width="1.200" stroke-linecap="butt">
    <path d="M766.600 126v-5.400a1 1 0 0 1 1-1h5.400"/>
    <path d="M777.200 119.600h4.400a1 1 0 0 1 1 1v5.400"/>
    <path d="M782.600 130v4.500a1 1 0 0 1-1 1h-4.400"/>
    <path d="M773 135.500h-5.400a1 1 0 0 1-1-1v-4.500"/>
  </g>
  <!-- bottom hexagon -->
  <g stroke-width="1.200" stroke-linejoin="round">
    <path d="M754.500 606.500l3.500-5.900h6.800l3.500 5.900l-3.500 5.900h-6.800z"/>
    <circle cx="761.400" cy="606.500" r="2"/>
  </g>
  <!-- legend minus button -->
  <circle cx="189" cy="168" r="9" fill="#ebecf0" stroke="none"/>
  <rect x="184.200" y="166.300" width="9.800" height="3.300" rx="1.650" fill="#8a8c96" stroke="none"/>
  <!-- TV logo -->
  <circle cx="93.600" cy="562.900" r="16.500" fill="#fff" stroke="#e1e3ea" stroke-width="1.200"/>
  <g fill="#131722" stroke="none">
    <path d="M83 558h9.200v10.800h-4.400v-6.700H83z"/>
    <circle cx="95" cy="559.900" r="1.700"/>
    <path d="M98.600 558h5.700l-3.800 10.800h-5.600z"/>
  </g>
</svg>

<!-- legend -->
<div class="a cj" id="legend-title" style="left:73.800px;top:160.300px;font-size:15.300px;color:#3f4766"><span id="lgt" style="display:inline-block;transform-origin:0 0;transform:scaleX(.885)">FEAUUS · 1</span><span id="lgd" style="display:inline-block;font-size:15px;margin-left:-8.460px;position:relative;top:1px">天</span></div>
<div id="legend-values"><span class="a lg cj" style="left:215px;top:164px">开=</span><span class="a lgv" style="left:235px;top:163px">5,080.77</span> <span class="a lg cj" style="left:292px;top:164px">高=</span><span class="a lgv" style="left:312px;top:163px">5,128.60</span> <span class="a lg cj" style="left:369px;top:164px">低=</span><span class="a lgv" style="left:389px;top:163px">5,009.59</span> <span class="a lg cj" style="left:446px;top:164px">收=</span><span class="a lgv" style="left:466px;top:163px">5,019.89</span> <span class="a lgv" style="left:524px;top:163px;transform-origin:0 0;transform:scaleX(.935)">−59.25</span> <span class="a lgv" style="left:567.500px;top:163px;transform-origin:0 0;transform:scaleX(.915)">(−1.17%)</span></div>

<!-- price axis -->
<div class="a pl" style="top:146px">5,800.00</div>
<div class="a pl" style="top:188px">5,600.00</div>
<div class="a pl" style="top:230px">5,400.00</div>
<div class="a pl" style="top:272px">5,200.00</div>
<div class="a pl" style="top:314px">5,000.00</div>
<div class="a pl" style="top:357px">4,800.00</div>
<div class="a pl" style="top:399px">4,600.00</div>
<div class="a pl" style="top:441px">4,400.00</div>
<div class="a pl" style="top:483px">4,200.00</div>
<div class="a pl" style="top:525px">4,000.00</div>
<div class="a pl" style="top:567px">3,800.00</div>
<div class="a" style="left:729px;top:309px;width:60px;height:17px;background:#429a84;border-radius:0 2px 2px 0;color:#fff;font-size:12px;font-weight:bold;line-height:17px;padding-left:8px;z-index:2">5,019.89</div>

<!-- time axis -->
<div class="a tl cj" style="left:84px;top:600px">11月</div>
<div class="a tl cj" style="left:204px;top:600px">12月</div>
<div class="a tl" style="left:336px;top:600px;font-weight:bold">2026</div>
<div class="a tl cj" style="left:462px;top:600px">2月</div>
<div class="a tl cj" style="left:582px;top:600px">3月</div>
<div class="a tl" style="left:666px;top:600px">19</div>
</body>
</html>
